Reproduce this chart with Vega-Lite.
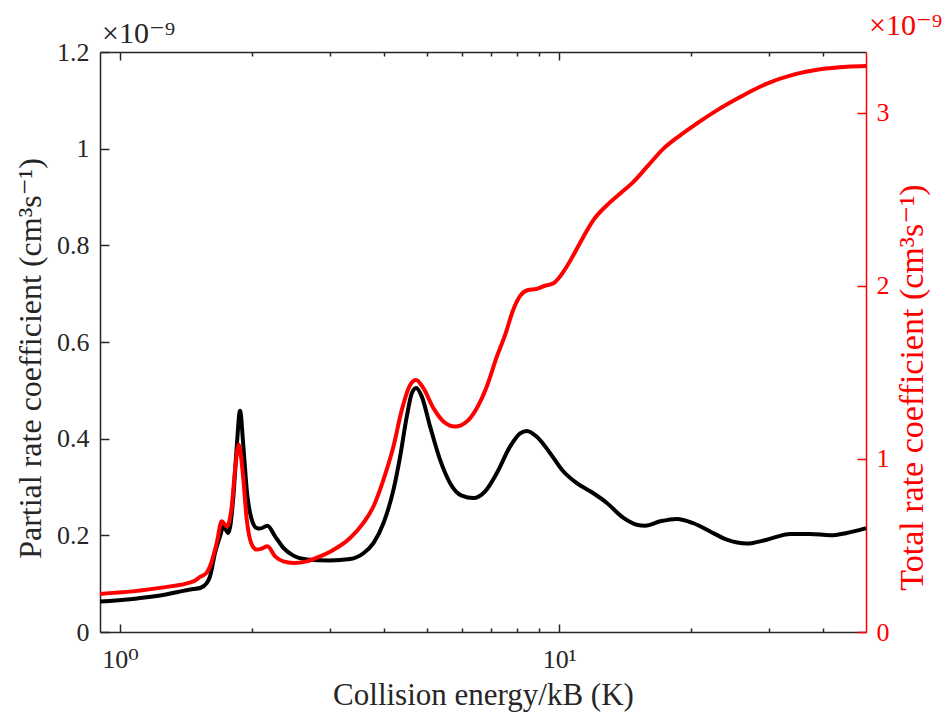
{
  "$schema": "https://vega.github.io/schema/vega-lite/v6.json",
  "width": 766,
  "height": 580,
  "autosize": {"type": "none"},
  "padding": {"left": 100, "top": 52, "right": 76, "bottom": 81},
  "background": "white",
  "config": {
    "view": {"stroke": null},
    "font": "Liberation Serif, DejaVu Serif, serif",
    "text": {"font": "Liberation Serif, DejaVu Serif, serif"},
    "axis": {
      "grid": false,
      "labelFont": "Liberation Serif, DejaVu Serif, serif",
      "titleFont": "Liberation Serif, DejaVu Serif, serif",
      "labelFontSize": 26,
      "titleFontSize": 31,
      "titleFontWeight": "normal",
      "labelColor": "#262626",
      "titleColor": "#262626",
      "domainColor": "#262626",
      "tickColor": "#262626",
      "domainWidth": 1.5,
      "tickWidth": 1.5,
      "labelOverlap": false,
      "labelFlush": false
    }
  },
  "datasets": {
    "partial": [
      {"E": 0.9, "k": 0.063}, {"E": 1.2335, "k": 0.0757}, {"E": 1.4687, "k": 0.0889}, {"E": 1.5208, "k": 0.091},
      {"E": 1.5752, "k": 0.101}, {"E": 1.6027, "k": 0.115}, {"E": 1.6454, "k": 0.164}, {"E": 1.6891, "k": 0.198},
      {"E": 1.7186, "k": 0.218}, {"E": 1.7644, "k": 0.205}, {"E": 1.8113, "k": 0.28}, {"E": 1.8439, "k": 0.384},
      {"E": 1.8761, "k": 0.458}, {"E": 1.9089, "k": 0.384}, {"E": 1.9432, "k": 0.294}, {"E": 1.9953, "k": 0.232},
      {"E": 2.0483, "k": 0.215}, {"E": 2.0842, "k": 0.214}, {"E": 2.1654, "k": 0.22}, {"E": 2.2546, "k": 0.198},
      {"E": 2.3549, "k": 0.174}, {"E": 2.4816, "k": 0.158}, {"E": 2.6625, "k": 0.15}, {"E": 3.0084, "k": 0.148},
      {"E": 3.3415, "k": 0.151}, {"E": 3.5829, "k": 0.163}, {"E": 3.7759, "k": 0.184}, {"E": 3.9792, "k": 0.225},
      {"E": 4.1936, "k": 0.294}, {"E": 4.3434, "k": 0.363}, {"E": 4.4985, "k": 0.446}, {"E": 4.618, "k": 0.494},
      {"E": 4.7234, "k": 0.505}, {"E": 4.8667, "k": 0.487}, {"E": 5.0834, "k": 0.425}, {"E": 5.3567, "k": 0.356},
      {"E": 5.6451, "k": 0.308}, {"E": 6.0022, "k": 0.282}, {"E": 6.3794, "k": 0.277}, {"E": 6.7829, "k": 0.291},
      {"E": 7.2144, "k": 0.329}, {"E": 7.7348, "k": 0.384}, {"E": 8.1511, "k": 0.411}, {"E": 8.4427, "k": 0.416},
      {"E": 8.8966, "k": 0.404}, {"E": 9.5399, "k": 0.37}, {"E": 10.228, "k": 0.332}, {"E": 10.972, "k": 0.308},
      {"E": 11.968, "k": 0.287}, {"E": 12.848, "k": 0.267}, {"E": 14.015, "k": 0.236}, {"E": 15.031, "k": 0.222},
      {"E": 15.7, "k": 0.22}, {"E": 16.991, "k": 0.229}, {"E": 18.544, "k": 0.234}, {"E": 20.229, "k": 0.225},
      {"E": 22.08, "k": 0.208}, {"E": 24.099, "k": 0.191}, {"E": 26.768, "k": 0.183}, {"E": 29.727, "k": 0.191},
      {"E": 33.595, "k": 0.203}, {"E": 37.309, "k": 0.203}, {"E": 41.427, "k": 0.2}, {"E": 45.218, "k": 0.205},
      {"E": 50, "k": 0.215}
    ],
    "total": [
      {"E": 0.9, "k": 0.22}, {"E": 1.2335, "k": 0.255}, {"E": 1.4687, "k": 0.293}, {"E": 1.5208, "k": 0.318},
      {"E": 1.5752, "k": 0.343}, {"E": 1.6027, "k": 0.379}, {"E": 1.6601, "k": 0.514}, {"E": 1.7042, "k": 0.639},
      {"E": 1.7502, "k": 0.61}, {"E": 1.7961, "k": 0.725}, {"E": 1.8276, "k": 0.937}, {"E": 1.8634, "k": 1.081},
      {"E": 1.9033, "k": 0.918}, {"E": 1.9432, "k": 0.649}, {"E": 1.9953, "k": 0.505}, {"E": 2.0483, "k": 0.476},
      {"E": 2.1028, "k": 0.482}, {"E": 2.1654, "k": 0.495}, {"E": 2.2546, "k": 0.437}, {"E": 2.3549, "k": 0.408},
      {"E": 2.4816, "k": 0.399}, {"E": 2.6625, "k": 0.408}, {"E": 2.8548, "k": 0.437}, {"E": 3.0084, "k": 0.464},
      {"E": 3.3415, "k": 0.543}, {"E": 3.5829, "k": 0.63}, {"E": 3.7759, "k": 0.725}, {"E": 3.9792, "k": 0.879},
      {"E": 4.1936, "k": 1.071}, {"E": 4.3823, "k": 1.283}, {"E": 4.5768, "k": 1.427}, {"E": 4.7234, "k": 1.456},
      {"E": 4.9078, "k": 1.408}, {"E": 5.1725, "k": 1.293}, {"E": 5.4512, "k": 1.216}, {"E": 5.7962, "k": 1.187},
      {"E": 6.1617, "k": 1.216}, {"E": 6.4935, "k": 1.293}, {"E": 6.8436, "k": 1.418}, {"E": 7.2144, "k": 1.591},
      {"E": 7.5336, "k": 1.716}, {"E": 7.8576, "k": 1.86}, {"E": 8.1511, "k": 1.941}, {"E": 8.5006, "k": 1.975},
      {"E": 8.8642, "k": 1.981}, {"E": 9.2915, "k": 2.0}, {"E": 9.7054, "k": 2.014}, {"E": 10.228, "k": 2.081},
      {"E": 10.779, "k": 2.177}, {"E": 11.36, "k": 2.283}, {"E": 11.968, "k": 2.379}, {"E": 12.848, "k": 2.465},
      {"E": 13.772, "k": 2.533}, {"E": 14.765, "k": 2.6}, {"E": 15.843, "k": 2.686}, {"E": 17.285, "k": 2.792},
      {"E": 18.867, "k": 2.869}, {"E": 20.591, "k": 2.937}, {"E": 22.869, "k": 3.013}, {"E": 25.842, "k": 3.09},
      {"E": 29.727, "k": 3.167}, {"E": 34.178, "k": 3.219}, {"E": 39.31, "k": 3.25}, {"E": 45.218, "k": 3.265},
      {"E": 50, "k": 3.269}
    ],
    "exponent": [{"label": "×10⁻⁹"}]
  },
  "layer": [
    {
      "layer": [
        {
          "data": {"name": "partial"},
          "mark": {"type": "line", "color": "black", "strokeWidth": 4, "interpolate": "monotone"},
          "encoding": {
            "x": {
              "field": "E", "type": "quantitative",
              "scale": {"type": "log", "domain": [0.9, 50], "nice": false},
              "axis": {
                "orient": "bottom",
                "values": [1, 2, 3, 4, 5, 6, 7, 8, 9, 10, 20, 30, 40],
                "labelExpr": "datum.value == 1 ? '10⁰' : (datum.value == 10 ? '10¹' : '')",
                "tickSize": {"condition": {"test": "datum.value == 1 || datum.value == 10", "value": -8}, "value": -4},
                "labelPadding": 22,
                "title": "Collision energy/kB (K)",
                "titlePadding": 4
              }
            },
            "y": {
              "field": "k", "type": "quantitative",
              "scale": {"domain": [0, 1.2], "nice": false},
              "axis": {
                "orient": "left",
                "values": [0, 0.2, 0.4, 0.6, 0.8, 1, 1.2],
                "format": "~g",
                "tickSize": -9,
                "labelPadding": 20,
                "title": "Partial rate coefficient (cm³s⁻¹)",
                "titleFontSize": 32,
                "titleY": 306,
                "titleAlign": "center",
                "titlePadding": 9
              }
            }
          }
        },
        {
          "data": {"name": "exponent"},
          "mark": {"type": "text", "align": "left", "baseline": "alphabetic", "fontSize": 30, "color": "#262626", "dx": 2, "dy": -9},
          "encoding": {
            "x": {"datum": 0.9, "type": "quantitative"},
            "y": {"datum": 1.2, "type": "quantitative"},
            "text": {"field": "label"}
          }
        }
      ]
    },
    {
      "layer": [
        {
          "data": {"name": "total"},
          "mark": {"type": "line", "color": "red", "strokeWidth": 4, "interpolate": "monotone"},
          "encoding": {
            "x": {
              "field": "E", "type": "quantitative",
              "scale": {"type": "log", "domain": [0.9, 50], "nice": false},
              "axis": {
                "orient": "top",
                "values": [1, 2, 3, 4, 5, 6, 7, 8, 9, 10, 20, 30, 40],
                "labels": false,
                "tickSize": {"condition": {"test": "datum.value == 1 || datum.value == 10", "value": -8}, "value": -4},
                "title": null
              }
            },
            "y": {
              "field": "k", "type": "quantitative",
              "scale": {"domain": [0, 3.35], "nice": false},
              "axis": {
                "orient": "right",
                "values": [0, 1, 2, 3],
                "format": "~g",
                "tickSize": -9,
                "labelPadding": 19,
                "domainColor": "red",
                "tickColor": "red",
                "labelColor": "red",
                "titleColor": "red",
                "title": "Total rate coefficient (cm³s⁻¹)",
                "titleFontSize": 34,
                "titleAngle": 270,
                "titleBaseline": "top",
                "titleY": 335,
                "titleAlign": "center",
                "titlePadding": 6
              }
            }
          }
        },
        {
          "data": {"name": "exponent"},
          "mark": {"type": "text", "align": "left", "baseline": "alphabetic", "fontSize": 30, "color": "red", "dx": 3, "dy": -17},
          "encoding": {
            "x": {"datum": 50, "type": "quantitative"},
            "y": {"datum": 3.35, "type": "quantitative"},
            "text": {"field": "label"}
          }
        }
      ]
    }
  ],
  "resolve": {"scale": {"y": "independent"}, "axis": {"x": "independent", "y": "independent"}}
}
